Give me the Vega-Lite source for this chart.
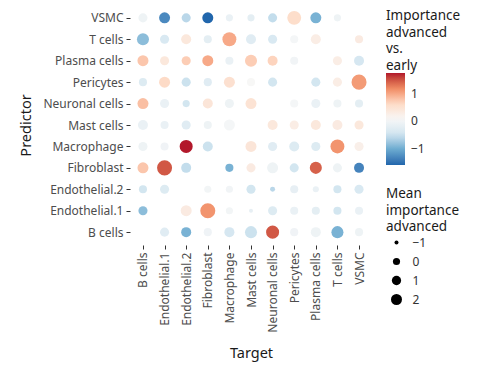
{
  "$schema": "https://vega.github.io/schema/vega-lite/v6.json",
  "width": 242,
  "height": 240,
  "autosize": {"type": "none"},
  "padding": {"left": 130, "top": 5, "right": 128, "bottom": 129},
  "config": {
    "font": "Noto Sans",
    "view": {"stroke": null},
    "axis": {"domain": false, "grid": false, "tickColor": "#333333", "tickSize": 4, "labelColor": "#4d4d4d", "labelFontSize": 12, "labelPadding": 3, "titleFontSize": 14.5, "titleFontWeight": "normal", "titleColor": "#1a1a1a"},
    "legend": {"padding": 0, "titleFontSize": 13.5, "titleFontWeight": "normal", "titleColor": "#1a1a1a", "titleLineHeight": 16.5, "labelFontSize": 12, "labelColor": "#333333"}
  },
  "data": {"values": [
    {"Predictor": "VSMC", "Target": "B cells", "imp": -0.05, "mean": 0.9},
    {"Predictor": "VSMC", "Target": "Endothelial.1", "imp": -1.3, "mean": 2.0},
    {"Predictor": "VSMC", "Target": "Endothelial.2", "imp": -0.6, "mean": 0.9},
    {"Predictor": "VSMC", "Target": "Fibroblast", "imp": -1.6, "mean": 2.0},
    {"Predictor": "VSMC", "Target": "Macrophage", "imp": -0.1, "mean": 0.0},
    {"Predictor": "VSMC", "Target": "Mast cells", "imp": -0.2, "mean": 0.0},
    {"Predictor": "VSMC", "Target": "Neuronal cells", "imp": -0.55, "mean": 0.9},
    {"Predictor": "VSMC", "Target": "Pericytes", "imp": 0.6, "mean": 4.1},
    {"Predictor": "VSMC", "Target": "Plasma cells", "imp": -0.95, "mean": 2.0},
    {"Predictor": "VSMC", "Target": "T cells", "imp": -0.05, "mean": 0.0},
    {"Predictor": "T cells", "Target": "B cells", "imp": -0.85, "mean": 2.7},
    {"Predictor": "T cells", "Target": "Endothelial.1", "imp": -0.35, "mean": 0.9},
    {"Predictor": "T cells", "Target": "Endothelial.2", "imp": 0.4, "mean": 1.4},
    {"Predictor": "T cells", "Target": "Fibroblast", "imp": -0.2, "mean": 0.4},
    {"Predictor": "T cells", "Target": "Macrophage", "imp": 1.0, "mean": 4.1},
    {"Predictor": "T cells", "Target": "Mast cells", "imp": -0.25, "mean": 1.4},
    {"Predictor": "T cells", "Target": "Neuronal cells", "imp": -0.35, "mean": 0.9},
    {"Predictor": "T cells", "Target": "Pericytes", "imp": 0.05, "mean": 0.4},
    {"Predictor": "T cells", "Target": "Plasma cells", "imp": 0.3, "mean": 1.4},
    {"Predictor": "T cells", "Target": "VSMC", "imp": 0.35, "mean": 0.4},
    {"Predictor": "Plasma cells", "Target": "B cells", "imp": 0.8, "mean": 2.0},
    {"Predictor": "Plasma cells", "Target": "Endothelial.1", "imp": 0.4, "mean": 0.9},
    {"Predictor": "Plasma cells", "Target": "Endothelial.2", "imp": 0.75, "mean": 0.9},
    {"Predictor": "Plasma cells", "Target": "Fibroblast", "imp": 1.0, "mean": 2.0},
    {"Predictor": "Plasma cells", "Target": "Macrophage", "imp": -0.1, "mean": 0.4},
    {"Predictor": "Plasma cells", "Target": "Mast cells", "imp": 0.75, "mean": 2.7},
    {"Predictor": "Plasma cells", "Target": "Neuronal cells", "imp": 0.7, "mean": 1.4},
    {"Predictor": "Plasma cells", "Target": "Pericytes", "imp": 0.0, "mean": 0.4},
    {"Predictor": "Plasma cells", "Target": "T cells", "imp": 0.3, "mean": 0.9},
    {"Predictor": "Plasma cells", "Target": "VSMC", "imp": -0.4, "mean": 1.4},
    {"Predictor": "Pericytes", "Target": "B cells", "imp": -0.3, "mean": 0.4},
    {"Predictor": "Pericytes", "Target": "Endothelial.1", "imp": 0.65, "mean": 2.0},
    {"Predictor": "Pericytes", "Target": "Endothelial.2", "imp": -0.5, "mean": 0.9},
    {"Predictor": "Pericytes", "Target": "Fibroblast", "imp": -0.25, "mean": 0.4},
    {"Predictor": "Pericytes", "Target": "Macrophage", "imp": 0.55, "mean": 2.0},
    {"Predictor": "Pericytes", "Target": "Mast cells", "imp": 0.1, "mean": 0.4},
    {"Predictor": "Pericytes", "Target": "Neuronal cells", "imp": -0.45, "mean": 0.9},
    {"Predictor": "Pericytes", "Target": "Plasma cells", "imp": -0.45, "mean": 0.9},
    {"Predictor": "Pericytes", "Target": "T cells", "imp": 0.3, "mean": 0.9},
    {"Predictor": "Pericytes", "Target": "VSMC", "imp": 1.1, "mean": 5.0},
    {"Predictor": "Neuronal cells", "Target": "B cells", "imp": 0.85, "mean": 2.0},
    {"Predictor": "Neuronal cells", "Target": "Endothelial.1", "imp": -0.1, "mean": 0.9},
    {"Predictor": "Neuronal cells", "Target": "Endothelial.2", "imp": -0.45, "mean": 0.0},
    {"Predictor": "Neuronal cells", "Target": "Fibroblast", "imp": 0.45, "mean": 1.4},
    {"Predictor": "Neuronal cells", "Target": "Macrophage", "imp": -0.05, "mean": 0.9},
    {"Predictor": "Neuronal cells", "Target": "Mast cells", "imp": 0.5, "mean": 2.0},
    {"Predictor": "Neuronal cells", "Target": "Pericytes", "imp": 0.05, "mean": 0.4},
    {"Predictor": "Neuronal cells", "Target": "Plasma cells", "imp": -0.1, "mean": 0.9},
    {"Predictor": "Neuronal cells", "Target": "T cells", "imp": -0.05, "mean": 0.4},
    {"Predictor": "Neuronal cells", "Target": "VSMC", "imp": -0.2, "mean": 0.4},
    {"Predictor": "Mast cells", "Target": "B cells", "imp": -0.1, "mean": 1.4},
    {"Predictor": "Mast cells", "Target": "Endothelial.1", "imp": -0.1, "mean": 0.4},
    {"Predictor": "Mast cells", "Target": "Endothelial.2", "imp": -0.25, "mean": 0.9},
    {"Predictor": "Mast cells", "Target": "Fibroblast", "imp": -0.05, "mean": 0.4},
    {"Predictor": "Mast cells", "Target": "Macrophage", "imp": 0.05, "mean": 2.0},
    {"Predictor": "Mast cells", "Target": "Neuronal cells", "imp": 0.4, "mean": 1.4},
    {"Predictor": "Mast cells", "Target": "Pericytes", "imp": 0.3, "mean": 0.9},
    {"Predictor": "Mast cells", "Target": "Plasma cells", "imp": 0.4, "mean": 1.4},
    {"Predictor": "Mast cells", "Target": "T cells", "imp": 0.35, "mean": 1.4},
    {"Predictor": "Mast cells", "Target": "VSMC", "imp": 0.4, "mean": 0.9},
    {"Predictor": "Macrophage", "Target": "B cells", "imp": -0.05, "mean": 0.9},
    {"Predictor": "Macrophage", "Target": "Endothelial.1", "imp": -0.02, "mean": 0.4},
    {"Predictor": "Macrophage", "Target": "Endothelial.2", "imp": 1.78, "mean": 3.4},
    {"Predictor": "Macrophage", "Target": "Fibroblast", "imp": -0.5, "mean": 1.4},
    {"Predictor": "Macrophage", "Target": "Mast cells", "imp": 0.45, "mean": 2.0},
    {"Predictor": "Macrophage", "Target": "Neuronal cells", "imp": -0.25, "mean": 0.9},
    {"Predictor": "Macrophage", "Target": "Pericytes", "imp": -0.3, "mean": 1.4},
    {"Predictor": "Macrophage", "Target": "Plasma cells", "imp": -0.3, "mean": 0.9},
    {"Predictor": "Macrophage", "Target": "T cells", "imp": 1.15, "mean": 4.1},
    {"Predictor": "Macrophage", "Target": "VSMC", "imp": 0.25, "mean": 0.9},
    {"Predictor": "Fibroblast", "Target": "B cells", "imp": 0.8, "mean": 2.0},
    {"Predictor": "Fibroblast", "Target": "Endothelial.1", "imp": 1.5, "mean": 5.0},
    {"Predictor": "Fibroblast", "Target": "Endothelial.2", "imp": -0.55, "mean": 1.4},
    {"Predictor": "Fibroblast", "Target": "Macrophage", "imp": -0.95, "mean": 0.4},
    {"Predictor": "Fibroblast", "Target": "Mast cells", "imp": 0.35, "mean": 0.9},
    {"Predictor": "Fibroblast", "Target": "Neuronal cells", "imp": -0.05, "mean": 2.0},
    {"Predictor": "Fibroblast", "Target": "Pericytes", "imp": -0.45, "mean": 0.9},
    {"Predictor": "Fibroblast", "Target": "Plasma cells", "imp": 1.45, "mean": 2.7},
    {"Predictor": "Fibroblast", "Target": "T cells", "imp": -0.05, "mean": 0.9},
    {"Predictor": "Fibroblast", "Target": "VSMC", "imp": -1.35, "mean": 1.4},
    {"Predictor": "Endothelial.2", "Target": "B cells", "imp": -0.45, "mean": 0.4},
    {"Predictor": "Endothelial.2", "Target": "Endothelial.1", "imp": -0.3, "mean": 0.9},
    {"Predictor": "Endothelial.2", "Target": "Fibroblast", "imp": 0.02, "mean": 0.0},
    {"Predictor": "Endothelial.2", "Target": "Macrophage", "imp": 0.0, "mean": 0.0},
    {"Predictor": "Endothelial.2", "Target": "Mast cells", "imp": -0.45, "mean": 0.9},
    {"Predictor": "Endothelial.2", "Target": "Neuronal cells", "imp": -0.6, "mean": -0.75},
    {"Predictor": "Endothelial.2", "Target": "Pericytes", "imp": -0.15, "mean": 0.4},
    {"Predictor": "Endothelial.2", "Target": "Plasma cells", "imp": -0.1, "mean": -0.4},
    {"Predictor": "Endothelial.2", "Target": "T cells", "imp": -0.45, "mean": 0.4},
    {"Predictor": "Endothelial.2", "Target": "VSMC", "imp": -0.35, "mean": 0.9},
    {"Predictor": "Endothelial.1", "Target": "B cells", "imp": -0.85, "mean": 0.9},
    {"Predictor": "Endothelial.1", "Target": "Endothelial.2", "imp": 0.35, "mean": 2.0},
    {"Predictor": "Endothelial.1", "Target": "Fibroblast", "imp": 1.15, "mean": 5.0},
    {"Predictor": "Endothelial.1", "Target": "Macrophage", "imp": 0.02, "mean": 0.0},
    {"Predictor": "Endothelial.1", "Target": "Mast cells", "imp": -0.15, "mean": -1.0},
    {"Predictor": "Endothelial.1", "Target": "Neuronal cells", "imp": -0.3, "mean": 0.9},
    {"Predictor": "Endothelial.1", "Target": "Pericytes", "imp": -0.1, "mean": 0.4},
    {"Predictor": "Endothelial.1", "Target": "Plasma cells", "imp": -0.2, "mean": 0.4},
    {"Predictor": "Endothelial.1", "Target": "T cells", "imp": -0.45, "mean": 0.4},
    {"Predictor": "Endothelial.1", "Target": "VSMC", "imp": -0.1, "mean": 0.4},
    {"Predictor": "B cells", "Target": "Endothelial.1", "imp": -0.25, "mean": 0.9},
    {"Predictor": "B cells", "Target": "Endothelial.2", "imp": -0.95, "mean": 1.4},
    {"Predictor": "B cells", "Target": "Fibroblast", "imp": -0.03, "mean": 0.4},
    {"Predictor": "B cells", "Target": "Macrophage", "imp": -0.4, "mean": 1.4},
    {"Predictor": "B cells", "Target": "Mast cells", "imp": -0.5, "mean": 2.7},
    {"Predictor": "B cells", "Target": "Neuronal cells", "imp": 1.5, "mean": 3.4},
    {"Predictor": "B cells", "Target": "Pericytes", "imp": -0.02, "mean": 0.4},
    {"Predictor": "B cells", "Target": "Plasma cells", "imp": -0.05, "mean": 1.4},
    {"Predictor": "B cells", "Target": "T cells", "imp": -0.95, "mean": 2.7},
    {"Predictor": "B cells", "Target": "VSMC", "imp": -0.05, "mean": 0.4}
  ]},
  "mark": {"type": "circle", "opacity": 1},
  "encoding": {
    "x": {
      "field": "Target", "type": "nominal",
      "sort": ["B cells", "Endothelial.1", "Endothelial.2", "Fibroblast", "Macrophage", "Mast cells", "Neuronal cells", "Pericytes", "Plasma cells", "T cells", "VSMC"],
      "scale": {"type": "point", "padding": 0.6},
      "axis": {"labelAngle": -90, "title": "Target", "titlePadding": 14}
    },
    "y": {
      "field": "Predictor", "type": "nominal",
      "sort": ["VSMC", "T cells", "Plasma cells", "Pericytes", "Neuronal cells", "Mast cells", "Macrophage", "Fibroblast", "Endothelial.2", "Endothelial.1", "B cells"],
      "scale": {"type": "point", "padding": 0.6},
      "axis": {"title": "Predictor", "titlePadding": 9}
    },
    "color": {
      "field": "imp", "type": "quantitative",
      "scale": {"type": "linear", "domain": [-1.6, -1.037, -0.473, 0.09, 0.653, 1.217, 1.78], "range": ["#2166ac", "#67a9cf", "#d1e5f0", "#f7f7f7", "#fddbc7", "#ef8a62", "#b2182b"], "interpolate": "lab"},
      "legend": {"title": ["Importance", "advanced", "vs.", "early"], "orient": "none", "legendX": 256, "legendY": 4, "values": [-1, 0, 1], "gradientLength": 92, "gradientThickness": 19, "labelOffset": 6, "titlePadding": 1, "direction": "vertical"}
    },
    "size": {
      "field": "mean", "type": "quantitative",
      "scale": {"type": "linear", "domain": [-1.4, 5], "range": [2, 226], "zero": false},
      "legend": {"title": ["Mean", "importance", "advanced"], "orient": "none", "legendX": 256, "legendY": 182, "values": [-1, 0, 1, 2], "symbolOffset": 4.5, "labelOffset": 10, "titlePadding": 3, "rowPadding": 7, "symbolFillColor": "black", "symbolStrokeWidth": 0,
        "encode": {"symbols": {"update": {"fill": {"value": "black"}, "stroke": {"value": "transparent"}}}}}
    }
  }
}
